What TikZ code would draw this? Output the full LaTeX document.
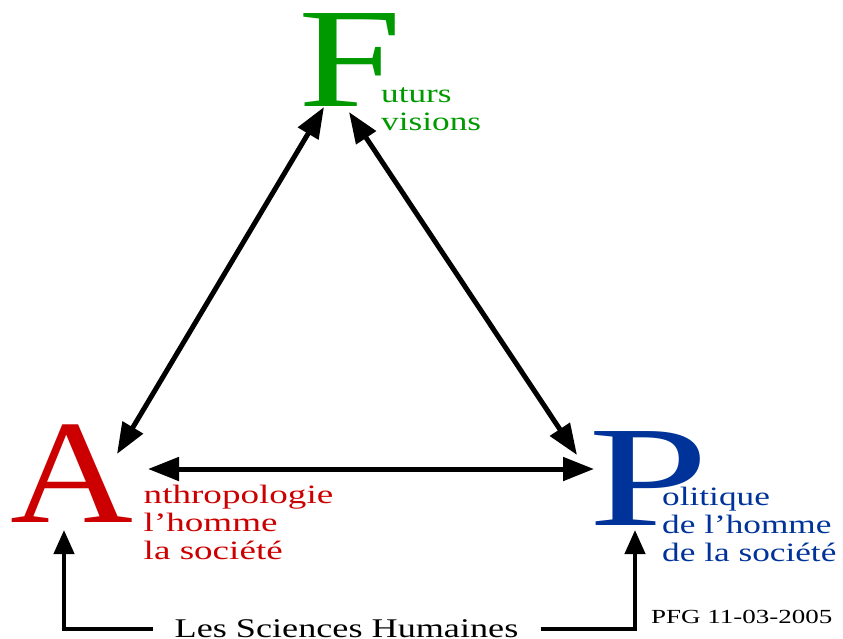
\documentclass[tikz,border=0pt]{standalone}
\usepackage{fontspec}
\setmainfont{Liberation Serif}
\usepackage{graphicx}
\usetikzlibrary{arrows.meta}

\definecolor{figgreen}{RGB}{0,153,0}
\definecolor{figred}{RGB}{204,0,0}
\definecolor{figblue}{RGB}{0,51,153}
\newcommand{\widen}[2]{\scalebox{#1}[1]{#2}}

\begin{document}
\begin{tikzpicture}[x=1pt, y=-1pt,
      every node/.style = {inner sep=0pt, anchor=base west},
      letter/.style = {font=\fontsize{#1}{#1}\selectfont},
      gloss/.style = {font=\fontsize{26.5}{28}\selectfont},
      link/.style = {line width=5pt,
        {Triangle[length=31pt,width=23pt]}-{Triangle[length=31pt,width=23pt]}},
      feed/.style = {line width=4.3pt, -{Triangle[length=24pt,width=20pt]}}]
  \useasboundingbox (0,0) rectangle (843,638);
  \node[letter=142, text=figgreen] (F) at (298,106) {\widen{1.31}{F}};
  \node[letter=148, text=figred] (A) at (10.5,522) {\widen{1.15}{A}};
  \node[letter=143.5, text=figblue] (P) at (588.5,525) {\widen{1.51}{P}};
  \node[gloss, text=figgreen] (Fgloss) at (381,102)
    {\widen{1.33}{\begin{tabular}[t]{@{}l@{}}uturs\\[0.5pt]visions\end{tabular}}};
  \node[gloss, text=figred] (Agloss) at (143.5,503)
    {\widen{1.4}{\begin{tabular}[t]{@{}l@{}}nthropologie\\l’homme\\la société\end{tabular}}};
  \node[gloss, text=figblue] (Pgloss) at (662,505)
    {\widen{1.33}{\begin{tabular}[t]{@{}l@{}}olitique\\de l’homme\\de la société\end{tabular}}};
  \node[font=\fontsize{27}{27}\selectfont, anchor=center, inner xsep=22pt]
    (sci) at (346.5,629) {\widen{1.34}{Les Sciences Humaines}};
  \node[font=\fontsize{20}{20}\selectfont] (date) at (651,623) {\widen{1.35}{PFG 11-03-2005}};
  \coordinate (F-left) at (324,107);
  \coordinate (F-right) at (349,112);
  \coordinate (A-top) at (117,454);
  \coordinate (A-side) at (148,469);
  \coordinate (A-foot) at (64,530);
  \coordinate (P-top) at (577,455);
  \coordinate (P-side) at (594,469);
  \coordinate (P-foot) at (635,530);
  \draw[link] (F-left) -- (A-top);
  \draw[link] (F-right) -- (P-top);
  \draw[link] (A-side) -- (P-side);
  \draw[feed] (sci.west) -| (A-foot);
  \draw[feed] (sci.east) -| (P-foot);
\end{tikzpicture}
\end{document}
